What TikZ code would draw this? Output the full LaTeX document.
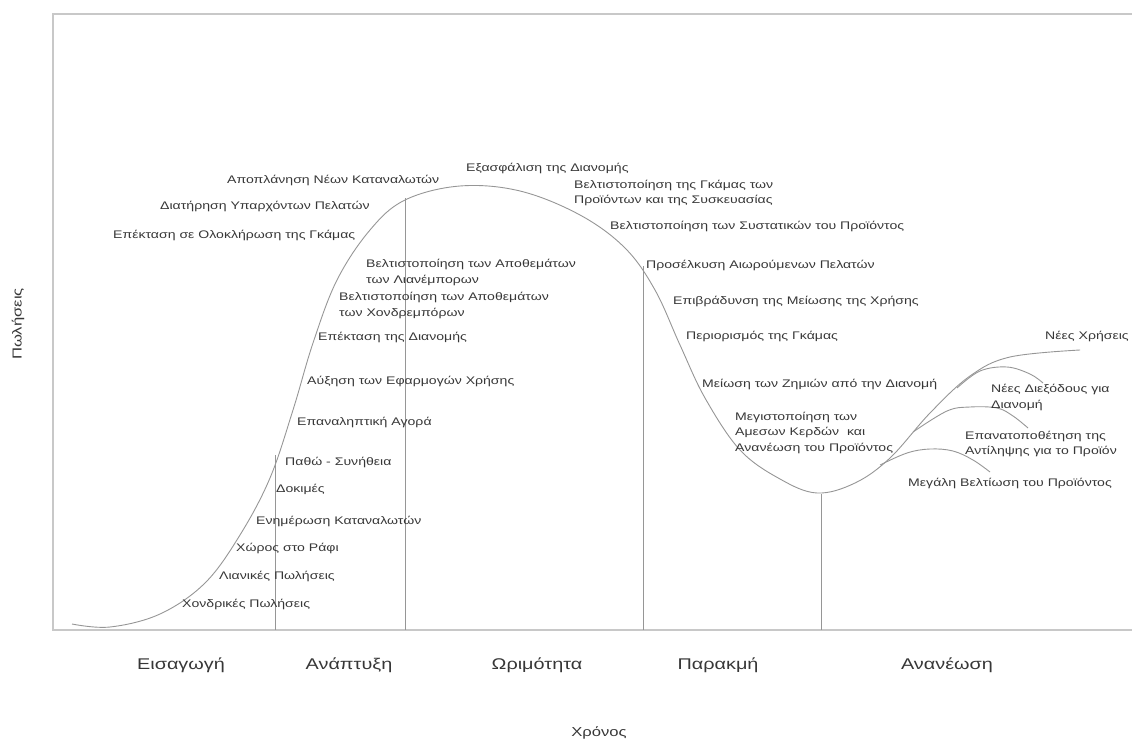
\documentclass[tikz,border=0pt]{standalone}
\usepackage{fontspec}
\setmainfont{Liberation Sans}
\newfontfamily\lblfont[FakeStretch=1.28]{Liberation Sans}
\definecolor{framec}{RGB}{200,200,200}
\definecolor{curvec}{RGB}{150,150,150}
\definecolor{textc}{RGB}{55,55,55}
\begin{document}
\begin{tikzpicture}[x=1pt,y=-1pt,
  lbl/.style={anchor=west,inner sep=0pt,text=textc,font=\lblfont\fontsize{11}{15.5}\selectfont,align=left},
  phase/.style={anchor=center,inner sep=0pt,text=textc,font=\lblfont\fontsize{15.5}{18}\selectfont},
  axlbl/.style={anchor=center,inner sep=0pt,text=textc,font=\lblfont\fontsize{13}{15}\selectfont},
  frameline/.style={draw=framec,line width=1.8pt},
  curveline/.style={draw=curvec,line width=0.9pt},
  divline/.style={draw=curvec,line width=0.9pt}]
\useasboundingbox (0,0) rectangle (1132,741);
% frame
\coordinate (tl) at (53,14);
\coordinate (tr) at (1132,14);
\coordinate (bl) at (53,630);
\coordinate (br) at (1132,630);
\draw[frameline] (tr) -- (tl) -- (bl) -- (br);
% phase dividers
\coordinate (v1t) at (275,455); \coordinate (v1b) at (275,630);
\coordinate (v2t) at (405,198); \coordinate (v2b) at (405,630);
\coordinate (v3t) at (643,266); \coordinate (v3b) at (643,630);
\coordinate (v4t) at (821,494); \coordinate (v4b) at (821,630);
\draw[divline] (v1t) -- (v1b);
\draw[divline] (v2t) -- (v2b);
\draw[divline] (v3t) -- (v3b);
\draw[divline] (v4t) -- (v4b);
% main curve
\draw[curveline] plot[smooth,tension=0.6] coordinates {
 (72,624) (110,627) (160,614) (205,583) (240,535) (270,478) (293,410) (313,343)
 (337,280) (370,230) (405,200) (460,186) (520,191) (580,215) (625,248) (655,290)
 (680,345) (705,398) (740,450) (780,479) (817,493) (855,483) (890,458) (930,413)
 (970,376) (1010,357) (1080,350)};
% renewal branches
\draw[curveline] plot[smooth,tension=0.6] coordinates {(957,388) (980,371) (1007,367) (1030,374) (1043,383)};
\draw[curveline] plot[smooth,tension=0.6] coordinates {(913,432) (947,411) (970,407) (997,408) (1013,416) (1028,428)};
\draw[curveline] plot[smooth,tension=0.6] coordinates {(880,465) (907,453) (930,449) (953,451) (973,460) (990,472)};
% labels
\node[lbl] (a1) at (227,180) {Αποπλάνηση Νέων Καταναλωτών};
\node[lbl] (a2) at (160,206) {Διατήρηση Υπαρχόντων Πελατών};
\node[lbl] (a3) at (113,235) {Επέκταση σε Ολοκλήρωση της Γκάμας};
\node[lbl] (b1) at (466,168) {Εξασφάλιση της Διανομής};
\node[lbl] (b2) at (574,193) {Βελτιστοποίηση της Γκάμας των\\Προϊόντων και της Συσκευασίας};
\node[lbl] (b3) at (610,226) {Βελτιστοποίηση των Συστατικών του Προϊόντος};
\node[lbl] (c1) at (366,272.5) {Βελτιστοποίηση των Αποθεμάτων\\των Λιανέμπορων};
\node[lbl] (c2) at (339,305.5) {Βελτιστοποίηση των Αποθεμάτων\\των Χονδρεμπόρων};
\node[lbl] (c3) at (318,337) {Επέκταση της Διανομής};
\node[lbl] (c4) at (307,381) {Αύξηση των Εφαρμογών Χρήσης};
\node[lbl] (c5) at (297,422) {Επαναληπτική Αγορά};
\node[lbl] (c6) at (285,462) {Παθώ - Συνήθεια};
\node[lbl] (c7) at (276,489) {Δοκιμές};
\node[lbl] (c8) at (256,521) {Ενημέρωση Καταναλωτών};
\node[lbl] (c9) at (236,548) {Χώρος στο Ράφι};
\node[lbl] (c10) at (219,576) {Λιανικές Πωλήσεις};
\node[lbl] (c11) at (182,604) {Χονδρικές Πωλήσεις};
\node[lbl] (d1) at (646,265) {Προσέλκυση Αιωρούμενων Πελατών};
\node[lbl] (d2) at (673,301) {Επιβράδυνση της Μείωσης της Χρήσης};
\node[lbl] (d3) at (686,336) {Περιορισμός της Γκάμας};
\node[lbl] (d4) at (702,384) {Μείωση των Ζημιών από την Διανομή};
\node[lbl] (d5) at (735,432.5) {Μεγιστοποίηση των\\Αμεσων Κερδών\ \ και\\Ανανέωση του Προϊόντος};
\node[lbl] (e1) at (1045,336) {Νέες Χρήσεις};
\node[lbl] (e2) at (991,397.5) {Νέες Διεξόδους για\\Διανομή};
\node[lbl] (e3) at (965,444) {Επανατοποθέτηση της\\Αντίληψης για το Προϊόν};
\node[lbl] (e4) at (908,483) {Μεγάλη Βελτίωση του Προϊόντος};
% phases
\node[phase] (p1) at (181,665) {Εισαγωγή};
\node[phase] (p2) at (349,665) {Ανάπτυξη};
\node[phase] (p3) at (537,665) {Ωριμότητα};
\node[phase] (p4) at (718,665) {Παρακμή};
\node[phase] (p5) at (947,665) {Ανανέωση};
% axes
\node[axlbl] (xl) at (599,733) {Χρόνος};
\node[axlbl,rotate=90] (yl) at (18,324) {Πωλήσεις};
\end{tikzpicture}
\end{document}
